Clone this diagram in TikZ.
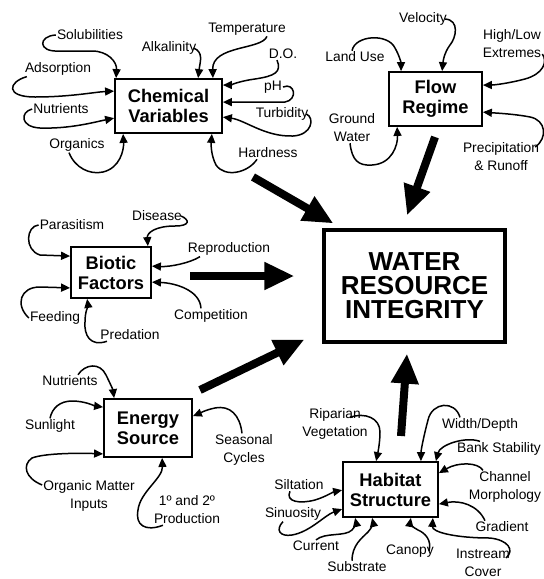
\documentclass[tikz,border=0pt]{standalone}
\usepackage{fontspec}
\setmainfont{Liberation Sans}
\usetikzlibrary{arrows.meta}

\begin{document}
\begin{tikzpicture}[x=1pt,y=-1pt,
	box/.style={draw,line width=1.8pt,align=center,inner sep=0pt,font=\fontsize{18.3}{20}\selectfont\bfseries},
	lbl/.style={align=center,inner sep=1pt,font=\fontsize{13.8}{18}\selectfont},
	feed/.style={line width=1.5pt,-{Triangle[length=9pt,width=8pt]}},
	big/.style={line width=8pt,-{Triangle[length=30pt,width=26pt]}}]
	\useasboundingbox (0,0) rectangle (544,579);
	\node[box,minimum width=107pt,minimum height=54pt] (chem) at (168.5,106) {Chemical\\Variables};
	\node[box,minimum width=93pt,minimum height=54pt] (flow) at (435.5,99) {Flow\\Regime};
	\node[box,minimum width=80pt,minimum height=51pt] (biotic) at (111,272.5) {Biotic\\Factors};
	\node[box,minimum width=88pt,minimum height=58pt] (energy) at (148,428) {Energy\\Source};
	\node[box,minimum width=95pt,minimum height=55pt] (habitat) at (390.5,489.5) {Habitat\\Structure};
	\node[box,line width=3.2pt,minimum width=181pt,minimum height=112pt,font=\fontsize{26}{24}\selectfont\bfseries] (water) at (414.5,286) {WATER\\RESOURCE\\INTEGRITY};

	\coordinate (chemout) at (253,177);
	\coordinate (flowout) at (435,137);
	\coordinate (bioticout) at (190,276);
	\coordinate (energyout) at (200,390);
	\coordinate (habitatout) at (401,436);
	\draw[big] (chemout) -- ([xshift=11,yshift=5]water.north west);
	\draw[big] (flowout) -- ([xshift=-7.5,yshift=13]water.north);
	\draw[big] (bioticout) -- ([xshift=-28,yshift=10]water.west);
	\draw[big] (energyout) -- ([xshift=-18,yshift=4]water.south west);
	\draw[big] (habitatout) -- ([xshift=-7.5,yshift=-10]water.south);

	\node[lbl] (solub) at (90,35) {Solubilities};
	\node[lbl] (adsorp) at (58,69) {Adsorption};
	\node[lbl] (nutr) at (61,109) {Nutrients};
	\node[lbl] (organ) at (77,145) {Organics};
	\node[lbl] (alkal) at (169,48) {Alkalinity};
	\node[lbl] (temp) at (247,29) {Temperature};
	\node[lbl] (do) at (283,54) {D.O.};
	\node[lbl] (ph) at (273,87) {pH};
	\node[lbl] (turb) at (282,114) {Turbidity};
	\node[lbl] (hard) at (268,153) {Hardness};
	\draw[feed] (solub.west) .. controls (38,36) and (38,52) .. (58,51) -- (92,51) .. controls (108,51) and (117,62) .. ([xshift=2]chem.north west);
	\draw[feed] ([xshift=3]adsorp.south west) .. controls (8,82) and (5,97) .. (35,97) .. controls (70,97) and (95,92) .. ([yshift=-13]chem.north west);
	\draw[feed] (nutr.west) .. controls (20,112) and (20,127) .. (40,128) .. controls (70,129) and (95,122) .. ([yshift=-40]chem.north west);
	\draw[feed] ([xshift=-8]organ.south) .. controls (75,168) and (90,175) .. (103,172) .. controls (120,168) and (124,150) .. ([xshift=9]chem.south west);
	\draw[feed] ([xshift=-4]alkal.east) .. controls (204,52) and (200,62) .. ([xshift=84]chem.north west);
	\draw[feed] ([xshift=-20]temp.south east) .. controls (262,50) and (212,45) .. ([xshift=-10]chem.north east);
	\draw[feed] ([xshift=-6]do.south) .. controls (282,72) and (275,76) .. (255,79) .. controls (240,81) and (230,85) .. ([yshift=-7]chem.north east);
	\draw[feed] (ph.east) .. controls (295,82) and (298,100) .. (285,102) -- ([yshift=-24]chem.north east);
	\draw[feed] ([xshift=-3]turb.east) .. controls (315,118) and (312,135) .. (293,136) .. controls (265,137) and (245,120) .. ([yshift=-39]chem.north east);
	\draw[feed] ([xshift=-11]hard.south) .. controls (248,173) and (225,178) .. (216,165) .. controls (211,155) and (211,145) .. ([xshift=-11]chem.south east);

	\node[lbl] (veloc) at (423,19) {Velocity};
	\node[lbl] (landuse) at (355,57) {Land Use};
	\node[lbl] (highlow) at (512,44) {High/Low\\Extremes};
	\node[lbl] (ground) at (352,128) {Ground\\Water};
	\node[lbl] (precip) at (501,157) {Precipitation\\\& Runoff};
	\draw[feed] ([xshift=-3]veloc.east) .. controls (460,20) and (456,38) .. (450,45) .. controls (444,53) and (443,62) .. ([xshift=54]flow.north west);
	\draw[feed] ([xshift=-3]landuse.north) .. controls (355,35) and (388,33) .. (395,48) .. controls (399,55) and (401,62) .. ([xshift=13]flow.north west);
	\draw[feed] ([yshift=-10]highlow.east) .. controls (548,62) and (543,74) .. (525,79) .. controls (510,83) and (495,85) .. ([yshift=-14]flow.north east);
	\draw[feed] ([xshift=-2]ground.south) .. controls (352,160) and (358,166) .. (372,165) .. controls (392,164) and (398,145) .. ([xshift=9]flow.south west);
	\draw[feed] ([xshift=-5,yshift=10]precip.east) .. controls (548,138) and (546,120) .. (530,117) .. controls (515,114) and (495,113) .. ([yshift=-41]flow.north east);

	\node[lbl] (paras) at (72,225) {Parasitism};
	\node[lbl] (disease) at (157,216) {Disease};
	\node[lbl] (repro) at (229,249) {Reproduction};
	\node[lbl] (compet) at (211,316) {Competition};
	\node[lbl] (feeding) at (55,318) {Feeding};
	\node[lbl] (predat) at (130,335) {Predation};
	\draw[feed] (paras.west) .. controls (26,226) and (24,250) .. (40,255) -- ([yshift=-10]biotic.north west);
	\draw[feed] ([xshift=-2]disease.east) .. controls (190,220) and (190,226) .. (175,226) .. controls (155,226) and (147,233) .. ([xshift=-4]biotic.north east);
	\draw[feed] ([xshift=-29]repro.south) .. controls (190,263) and (170,267) .. ([yshift=-20]biotic.north east);
	\draw[feed] ([xshift=-10]compet.north) .. controls (200,290) and (175,283) .. ([yshift=-36]biotic.north east);
	\draw[feed] (feeding.west) .. controls (15,305) and (20,287) .. (40,287) -- ([yshift=11]biotic.south west);
	\draw[feed] ([xshift=-23]predat.south) .. controls (90,347) and (84,335) .. (85,322) .. controls (85,312) and (88,305) .. ([xshift=17]biotic.south west);

	\node[lbl] (enutr) at (70,381) {Nutrients};
	\node[lbl] (sun) at (50,426) {Sunlight};
	\node[lbl] (organic) at (89,496) {Organic Matter\\Inputs};
	\node[lbl] (prod) at (187,510) {1º and 2º\\Production};
	\node[lbl] (season) at (244,450) {Seasonal\\Cycles};
	\draw[feed] ([xshift=8]enutr.north) .. controls (85,364) and (100,362) .. (106,375) .. controls (110,383) and (113,390) .. ([xshift=11]energy.north west);
	\draw[feed] (sun.north) .. controls (52,408) and (60,401) .. (72,401) .. controls (85,401) and (95,406) .. ([yshift=-9]energy.north west);
	\draw[feed] ([yshift=11]organic.west) .. controls (25,478) and (22,465) .. (32,458) .. controls (45,453) and (80,453) .. ([yshift=4]energy.south west);
	\draw[feed] ([xshift=-24]prod.south) .. controls (145,532) and (135,525) .. (138,510) .. controls (140,492) and (163,478) .. ([xshift=59]energy.south west);
	\draw[feed] ([xshift=-2]season.north) .. controls (240,415) and (230,405) .. (215,408) .. controls (205,410) and (198,414) .. ([yshift=-18]energy.north east);

	\node[lbl] (ripar) at (335,424) {Riparian\\Vegetation};
	\node[lbl] (width) at (480,425) {Width/Depth};
	\node[lbl] (bank) at (499,449) {Bank Stability};
	\node[lbl] (channel) at (505,487) {Channel\\Morphology};
	\node[lbl] (gradient) at (502,527) {Gradient};
	\node[lbl] (instream) at (483,563) {Instream\\Cover};
	\node[lbl] (canopy) at (410,551) {Canopy};
	\node[lbl] (substr) at (357,567) {Substrate};
	\node[lbl] (current) at (316,546) {Current};
	\node[lbl] (silt) at (299,485) {Siltation};
	\node[lbl] (sinu) at (293,514) {Sinuosity};
	\draw[feed] ([xshift=15,yshift=-10]ripar.north) .. controls (365,412) and (380,418) .. (380,432) .. controls (380,442) and (378,452) .. ([xshift=34]habitat.north west);
	\draw[feed] ([xshift=-20]width.north) .. controls (455,400) and (432,402) .. (428,420) .. controls (424,435) and (421,450) .. ([xshift=-18]habitat.north east);
	\draw[feed] ([xshift=-19]bank.north) .. controls (465,436) and (440,445) .. ([xshift=-3]habitat.north east);
	\draw[feed] ([xshift=-22]channel.north) .. controls (478,462) and (458,462) .. ([yshift=-12]habitat.north east);
	\draw[feed] ([xshift=-17]gradient.north) .. controls (478,505) and (460,500) .. ([yshift=-43]habitat.north east);
	\draw[feed] ([xshift=-5,yshift=5]instream.east) .. controls (515,550) and (508,540) .. (490,538) .. controls (455,538) and (432,532) .. ([xshift=-6]habitat.south east);
	\draw[feed] ([xshift=-6]canopy.east) .. controls (432,540) and (425,533) .. (418,530) .. controls (412,527) and (410,523) .. ([xshift=-28]habitat.south east);
	\draw[feed] ([xshift=-5]substr.north) .. controls (352,545) and (362,538) .. (368,532) .. controls (372,528) and (373,522) .. ([xshift=30]habitat.south west);
	\draw[feed] (current.north) .. controls (325,532) and (345,537) .. (352,530) .. controls (355,527) and (356,522) .. ([xshift=13]habitat.south west);
	\draw[feed] ([xshift=-9]silt.south) .. controls (285,502) and (300,504) .. (315,500) .. controls (325,497) and (333,492) .. ([yshift=-29]habitat.north west);
	\draw[feed] ([xshift=-10]sinu.south) .. controls (275,530) and (280,537) .. (292,535) .. controls (310,532) and (325,515) .. ([yshift=-48]habitat.north west);
\end{tikzpicture}
\end{document}
